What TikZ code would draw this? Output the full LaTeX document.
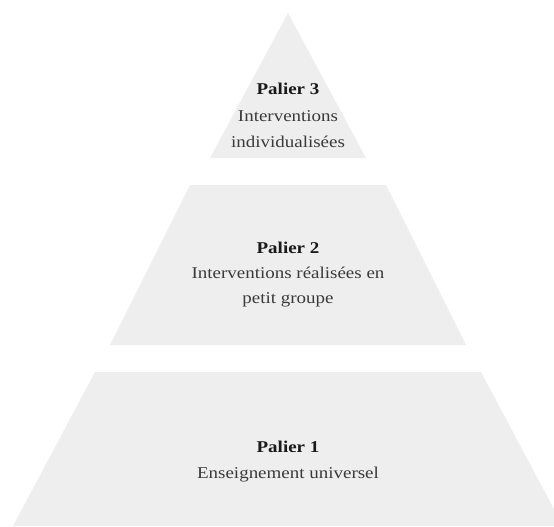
\documentclass[tikz,border=0pt]{standalone}
\usepackage{fontspec}
\setmainfont{Liberation Serif}[FakeStretch=1.15]
\definecolor{tierfill}{HTML}{EEEEEE}
\definecolor{bodytext}{HTML}{3A3A3A}
\definecolor{headtext}{HTML}{1A1A1A}
\tikzset{
  tier/.style={fill=tierfill, draw=none},
  head/.style={anchor=base, inner sep=0pt, text=headtext, font=\fontsize{16.5}{20}\selectfont\bfseries},
  body/.style={anchor=base, inner sep=0pt, text=bodytext, font=\fontsize{16.5}{20}\selectfont}
}
\begin{document}
\begin{tikzpicture}[x=1pt,y=-1pt]
\useasboundingbox (0,0) rectangle (554,527);
\clip (0,0) rectangle (554,527);
% tiers
\fill[tier] (288,13) -- (366,158) -- (210,158) -- cycle;
\fill[tier] (190,185) -- (386,185) -- (466,345) -- (110,345) -- cycle;
\fill[tier] (95,372) -- (481,372) -- (563,526) -- (13,526) -- cycle;
% labels
\node[head] (p3) at (288,95) {Palier 3};
\node[body] (l3a) at (288,121) {Interventions};
\node[body] (l3b) at (288,147) {individualisées};
\node[head] (p2) at (288,253) {Palier 2};
\node[body] (l2a) at (288,278) {Interventions réalisées en};
\node[body] (l2b) at (288,303) {petit groupe};
\node[head] (p1) at (288,452) {Palier 1};
\node[body] (l1a) at (288,478) {Enseignement universel};
\end{tikzpicture}
\end{document}
